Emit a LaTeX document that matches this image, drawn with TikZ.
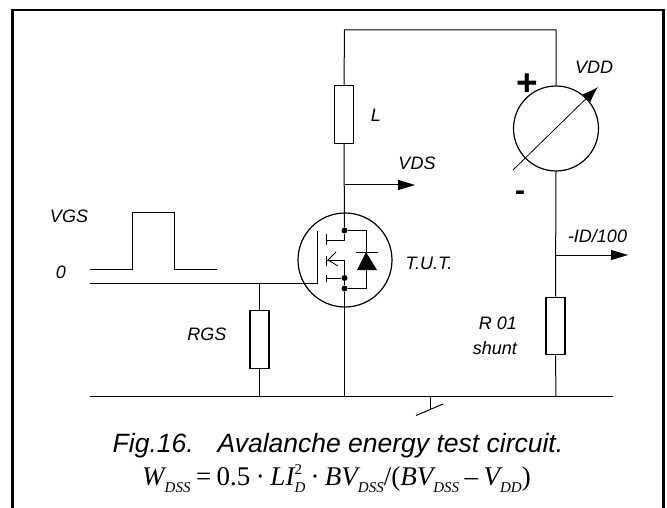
\documentclass[tikz,border=0pt]{standalone}
\usepackage{fontspec}
\setmainfont{Liberation Sans}
\newfontfamily\serifital{Liberation Serif}
\usetikzlibrary{arrows.meta}
\newcommand{\sbs}[1]{\raisebox{-7pt}{\fontsize{15}{15}\selectfont\itshape #1}}
\newcommand{\opgap}{\hspace{5.5pt}}
\tikzset{
  wire/.style={line width=1pt,black},
  res/.style={draw,line width=1.2pt,minimum width=19pt,minimum height=57.5pt,inner sep=0,fill=white},
  lab/.style={font=\fontsize{18}{20}\selectfont\itshape,inner sep=0},
  dot/.style={circle,fill=black,inner sep=0,minimum size=6pt},
  probe/.style={wire,-{Triangle[length=17pt,width=10pt]}}
}
\begin{document}
\begin{tikzpicture}[x=1pt,y=-1pt]
\useasboundingbox (0,0) rectangle (667,508);
\fill[white] (0,0) rectangle (667,508);
% frame
\draw[line width=2.5pt] (12.5,508) -- (12.5,10) -- (663.5,10) -- (663.5,508);
% coordinates
\coordinate (tl) at (344.5,30);
\coordinate (tr) at (556,30);
\coordinate (bl) at (90,396.5);
\coordinate (br) at (613,396.5);
\coordinate (bm) at (344.5,396.5);
\coordinate (bg) at (259.5,396.5);
\coordinate (bs) at (556,396.5);
\coordinate (bgnd) at (430,396.5);
\coordinate (gndtip) at (430,409);
\coordinate (gnda) at (416,415.5);
\coordinate (gndb) at (443,404);
% components
\node[res] (L) at (344,114.5) {};
\node[res] (RGS) at (259.5,339.5) {};
\node[res] (Rs) at (555.5,326) {};
\node[circle,draw,line width=1.2pt,minimum size=85pt,inner sep=0] (M) at (556,128.5) {};
\node[circle,draw,line width=1.2pt,minimum size=94pt,inner sep=0] (Q) at (345,260) {};
% wires
\draw[wire] (L.north) -- (tl) -- (tr) -- (M.north);
\draw[wire] (M.south) -- (Rs.north);
\draw[wire] (Rs.south) -- (bs);
\draw[wire] (bl) -- (br);
\draw[wire] (RGS.south) -- (bg);
\coordinate (gjoin) at (259.5,283.5);
\coordinate (gl) at (90,283.5);
\coordinate (gbar) at (317,283.5);
\coordinate (gbart) at (317,231);
\draw[wire] (gl) -- (gbar) -- (gbart);
\draw[wire] (gjoin) -- (RGS.north);
\draw[wire] (bgnd) -- (gndtip);
\draw[wire] (gnda) -- (gndb);
% drain/source vertical
\node[dot] (dd) at (344.5,230.5) {};
\node[dot] (ds) at (344.5,278) {};
\node[dot] (dk) at (344.5,288.5) {};
\draw[wire] (L.south) -- (dd);
\draw[wire] (dk) -- (bm);
\draw[wire] (ds) -- (dk);
% channel
\draw[wire] (326,234) -- (326,245);
\draw[wire] (326,256) -- (326,266);
\draw[wire] (326,275) -- (326,282);
\draw[wire] (326,240) -- (344.5,240) -- (dd);
\draw[wire] (326,260) -- (344.5,260) -- (ds);
\draw[wire] (326,278) -- (ds);
\draw[line width=.8pt] (336,252) -- (328,260) -- (338,266);
% diode
\draw[wire] (dd) -- (366,230.5) -- (366,288.5) -- (dk);
\draw[wire] (356,252) -- (378,252);
\fill (366,252) -- (377,270) -- (357,270) -- cycle;
% probes
\coordinate (vds) at (344.5,185);
\coordinate (vdsE) at (415,185);
\coordinate (idp) at (556,255);
\coordinate (idE) at (628,255);
\draw[probe] (vds) -- (vdsE);
\draw[probe] (idp) -- (idE);
% meter needle
\coordinate (na) at (513,170);
\coordinate (nb) at (598,87);
\draw[line width=.8pt,-{Latex[length=16pt,width=11pt]}] (na) -- (nb);
% pulse
\draw[wire] (90,269.5) -- (132.5,269.5) -- (132.5,212.5) -- (174.5,212.5) -- (174.5,269.5) -- (217,269.5);
% labels
\node[lab] at (376,115) {L};
\node[lab] at (417,163) {VDS};
\node[lab] at (594,67) {VDD};
\node[lab] at (429,263) {T.U.T.};
\node[lab] at (597.5,236) {-ID/100};
\node[lab,anchor=east] at (517,323) {R 01};
\node[lab,anchor=east] at (517,348) {shunt};
\node[lab] at (207,334) {RGS};
\node[lab] at (69,216) {VGS};
\node[lab] at (61,272) {0};
\node[inner sep=0,font=\fontsize{37}{37}\selectfont\bfseries] at (527.5,85) {+};
\node[inner sep=0,font=\fontsize{30}{30}\selectfont\bfseries] at (520,196) {-};
\node[inner sep=0,anchor=base,font=\fontsize{26.5}{28}\selectfont\itshape] (cap) at (338,452) {Fig.16.\hspace{0.9em}Avalanche energy test circuit.};
\node[inner sep=0,anchor=base west,font=\fontsize{27}{28}\selectfont\serifital] (eq) at (142,485) {\itshape W\sbs{DSS}\upshape\opgap=\opgap0.5\opgap·\opgap\itshape LI\rlap{\sbs{D}}\raisebox{11pt}{\fontsize{15}{15}\selectfont\upshape 2}\hspace{3pt}\upshape\opgap·\opgap\itshape BV\sbs{DSS}\upshape/(\itshape BV\sbs{DSS}\upshape\opgap–\opgap\itshape V\sbs{DD}\upshape)};
\end{tikzpicture}
\end{document}
